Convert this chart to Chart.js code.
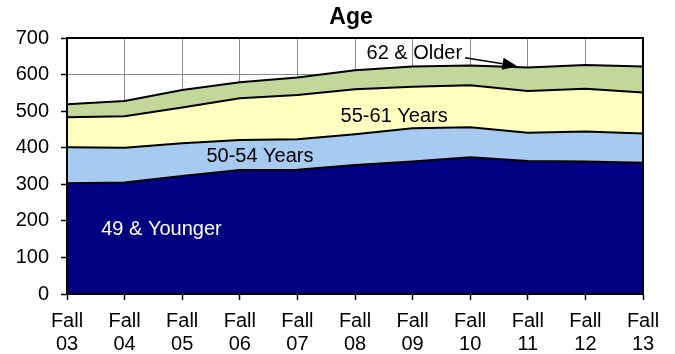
<!DOCTYPE html>
<html>
<head>
<meta charset="utf-8">
<script src="https://cdn.jsdelivr.net/npm/chart.js@4/dist/chart.umd.min.js"></script>
<style>
  html, body { margin: 0; padding: 0; background: #fff; }
  #wrap { width: 675px; height: 354px; }
</style>
</head>
<body>
<div id="wrap"><canvas id="c" width="675" height="354"></canvas></div>
<script>
// Enrollment by age group, fall terms 2003-2013
const terms = ['03', '04', '05', '06', '07', '08', '09', '10', '11', '12', '13'];
const younger49 = [303, 305, 323, 339, 340, 353, 362, 374, 364, 362, 359];
const years50to54 = [98, 95, 89, 82, 83, 84, 91, 82, 77, 82, 80];
const years55to61 = [82, 86, 98, 114, 121, 123, 114, 115, 114, 117, 112];
const older62 = [36, 42, 48, 44, 48, 52, 55, 54, 64, 65, 71];
const yTicks = [0, 100, 200, 300, 400, 500, 600, 700];

const FONT = 'Arial, "Liberation Sans", sans-serif';

// Series labels placed in data coordinates: [text, category index, value, colour]
const seriesLabels = [
  ['49 & Younger', 1.64, 161, '#ffffff'],
  ['50-54 Years', 3.35, 360, '#000000'],
  ['55-61 Years', 5.68, 469, '#000000'],
  ['62 & Older', 6.03, 642, '#000000']
];
// Leader arrow from the "62 & Older" label to its band
const arrowFrom = [6.91, 646];
const arrowTo = [7.82, 623];

const overlay = {
  id: 'overlay',
  afterDatasetsDraw(chart) {
    const { ctx, chartArea: a, scales: { x, y } } = chart;
    ctx.save();
    // plot frame
    ctx.strokeStyle = '#000';
    ctx.lineWidth = 2;
    ctx.strokeRect(a.left, a.top, a.right - a.left, a.bottom - a.top);

    // series labels
    ctx.font = '20px ' + FONT;
    ctx.textAlign = 'center';
    ctx.textBaseline = 'alphabetic';
    seriesLabels.forEach(([t, i, v, col]) => {
      ctx.fillStyle = col;
      ctx.fillText(t, x.getPixelForValue(i), y.getPixelForValue(v));
    });

    // arrow
    const x0 = x.getPixelForValue(arrowFrom[0]), y0 = y.getPixelForValue(arrowFrom[1]);
    const x1 = x.getPixelForValue(arrowTo[0]), y1 = y.getPixelForValue(arrowTo[1]);
    const ang = Math.atan2(y1 - y0, x1 - x0);
    const hl = 15, hw = 6;
    ctx.strokeStyle = '#000';
    ctx.lineWidth = 1.5;
    ctx.beginPath();
    ctx.moveTo(x0, y0);
    ctx.lineTo(x1 - Math.cos(ang) * hl, y1 - Math.sin(ang) * hl);
    ctx.stroke();
    ctx.fillStyle = '#000';
    ctx.beginPath();
    ctx.moveTo(x1, y1);
    ctx.lineTo(x1 - Math.cos(ang) * hl - Math.sin(ang) * hw, y1 - Math.sin(ang) * hl + Math.cos(ang) * hw);
    ctx.lineTo(x1 - Math.cos(ang) * hl + Math.sin(ang) * hw, y1 - Math.sin(ang) * hl - Math.cos(ang) * hw);
    ctx.closePath();
    ctx.fill();

    // title
    ctx.font = 'bold 23px ' + FONT;
    ctx.fillStyle = '#000';
    ctx.fillText('Age', (a.left + a.right) / 2 - 4, 24);
    ctx.restore();
  }
};

const band = (label, data, color, fill) => ({
  label, data,
  backgroundColor: color,
  borderColor: '#000',
  borderWidth: 2,
  fill,
  pointRadius: 0,
  pointHoverRadius: 0,
  tension: 0
});

new Chart(document.getElementById('c'), {
  type: 'line',
  data: {
    labels: terms.map(t => ['Fall', t]),
    datasets: [
      band('49 & Younger', younger49, '#000080', 'origin'),
      band('50-54 Years', years50to54, '#a6caf0', '-1'),
      band('55-61 Years', years55to61, '#ffffc0', '-1'),
      band('62 & Older', older62, '#c4d79b', '-1')
    ]
  },
  options: {
    responsive: false,
    animation: false,
    events: [],
    layout: { padding: { top: 38, right: 32, left: 0, bottom: 0 } },
    plugins: { legend: { display: false }, tooltip: { enabled: false }, title: { display: false } },
    scales: {
      x: {
        stacked: true,
        offset: false,
        grid: { color: '#8c8c8c', lineWidth: 1, tickColor: '#000', tickLength: 6, tickWidth: 1.5 },
        border: { color: '#000', width: 2 },
        ticks: { color: '#000', font: { family: FONT, size: 20, lineHeight: 1.15 }, padding: 10, maxRotation: 0, autoSkip: false },
        afterFit(s) { s.height = 60; }
      },
      y: {
        stacked: true,
        min: 0, max: 700,
        afterBuildTicks(s) { s.ticks = yTicks.map(v => ({ value: v })); },
        grid: { color: '#8c8c8c', lineWidth: 1, tickColor: '#000', tickLength: 6, tickWidth: 1.5 },
        border: { color: '#000', width: 2 },
        ticks: { color: '#000', font: { family: FONT, size: 20 }, padding: 12 },
        afterFit(s) { s.width = 67; }
      }
    }
  },
  plugins: [overlay]
});
</script>
</body>
</html>
